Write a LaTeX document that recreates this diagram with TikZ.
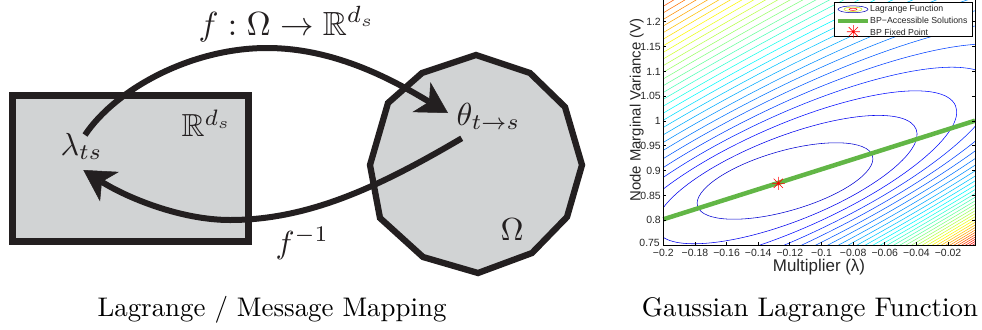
\documentclass[tikz,border=0pt]{standalone}
\usepackage{fontspec}
\usepackage{amssymb}
\newfontfamily\plotfont{Liberation Sans}
\usetikzlibrary{arrows.meta}
\definecolor{shapegray}{RGB}{209,211,212}
\definecolor{ink}{RGB}{35,31,32}
\definecolor{bpgreen}{RGB}{98,182,70}
\begin{document}
\begin{tikzpicture}[x=1bp,y=-1bp,
  region/.style={fill=shapegray, draw=ink, line width=6.3bp, line join=miter},
  maparrow/.style={draw=ink, line width=6bp, -{Stealth[length=31bp,width=35bp,inset=9bp,line width=0.5bp]}},
  mathlabel/.style={inner sep=0pt, scale=3.2, text=ink},
  caption/.style={inner sep=0pt, scale=2.7},
  ticklab/.style={font=\plotfont\fontsize{10.5}{12}\selectfont, inner sep=0pt, text=black!85},
  axlab/.style={font=\plotfont\fontsize{17}{19}\selectfont, inner sep=0pt, text=black!85},
  ylabstyle/.style={font=\plotfont\fontsize{15}{17}\selectfont, inner sep=0pt, text=black!85},
  legtext/.style={font=\plotfont\fontsize{8.8}{10}\selectfont, inner sep=0pt, anchor=west, text=black!85},
  contour/.style={line width=0.55bp},
  axisline/.style={line width=0.8bp, black},
  starmark/.style={red, line width=0.6bp}]
\useasboundingbox (0,0) rectangle (982,329);
% ---------------- left panel ----------------
\draw[region] (12.5,95.5) rectangle (248.5,241.5);
\draw[region] (476,55) -- (530,73) -- (565,107) -- (582,165) -- (567,217) -- (532,253)
  -- (478,273) -- (423,257) -- (380,218) -- (370,165) -- (388,103) -- (422,73) -- cycle;
\node[mathlabel, anchor=base west] (lam) at (60,155) {$\lambda_{ts}$};
\node[mathlabel, anchor=base west] (theta) at (456,125) {$\theta_{t\to s}$};
\node[mathlabel, anchor=base west] (Rds) at (181,136.7) {$\mathbb{R}^{d_s}$};
\node[mathlabel, anchor=base west] (Om) at (500,240) {$\Omega$};
\node[mathlabel, anchor=base west, scale=1.05] (fmap) at (198,35) {$f:\Omega\to\mathbb{R}^{d_s}$};
\node[mathlabel, anchor=base west] (finv) at (275,253) {$f^{-1}$};
\coordinate (fstart) at (85,135);
\coordinate (fapex) at (267,48);
\coordinate (fend) at (448,113);
\coordinate (gstart) at (461.7,138.3);
\coordinate (glow) at (230,220);
\coordinate (gend) at (83.3,170);
\draw[maparrow] (fstart) .. controls (115,90) and (190,48) .. (fapex)
  .. controls (337,48) and (396.5,82.2) .. (fend);
\draw[maparrow] (gstart) .. controls (381.7,185.3) and (310,220) .. (glow)
  .. controls (180,220) and (125.5,196.9) .. (gend);
\node[caption, anchor=base] (capL) at (272,316) {Lagrange / Message Mapping};
% ---------------- right panel ----------------
\begin{scope}
\clip (663.3,0) rectangle (975,245);
\foreach \k in {1,...,36} {
  \pgfmathsetmacro{\sq}{sqrt(\k)}
  \pgfmathsetmacro{\A}{91*\sq*(1+0.08*(\k-1))}
  \pgfmathsetmacro{\Bp}{30*\sq*(1-0.003*(\k-1))}
  \pgfmathsetmacro{\Bm}{30*\sq*(1+0.012*(\k-1))}
  \pgfmathsetmacro{\ang}{16+18*(1-1/\sq)}
  \pgfmathsetmacro{\cx}{785+4*(\sq-1)}
  \pgfmathsetmacro{\cy}{181-3*(\sq-1)}
  \pgfmathsetmacro{\lev}{0.08+0.92*(\k-1)/35}
  \pgfmathsetmacro{\cR}{min(1,max(0,1.5-abs(4*\lev-3)))}
  \pgfmathsetmacro{\cG}{min(1,max(0,1.5-abs(4*\lev-2)))}
  \pgfmathsetmacro{\cB}{min(1,max(0,1.5-abs(4*\lev-1)))}
  \definecolor{levcol}{rgb}{\cR,\cG,\cB}
  \begin{scope}[shift={(\cx,\cy)}, rotate=\ang]
    \draw[levcol, contour] (\A,0) arc[start angle=0,end angle=180,x radius=\A,y radius=\Bp]
      arc[start angle=180,end angle=360,x radius=\A,y radius=\Bm];
  \end{scope}
}
\end{scope}
\coordinate (gl0) at (663.3,219.3);
\coordinate (gl1) at (975,120.7);
\draw[bpgreen, line width=4.5bp] (gl0) -- (gl1);
\coordinate (fp) at (778.3,183.3);
\draw[starmark] (fp) +(-6.5,0) -- +(6.5,0) (fp) +(0,-6.5) -- +(0,6.5)
  (fp) +(-4.6,-4.6) -- +(4.6,4.6) (fp) +(-4.6,4.6) -- +(4.6,-4.6);
\draw[axisline] (663.3,0) -- (663.3,245) -- (975,245) -- (975,0);
\foreach \i/\lab in {0/−0.2,1/−0.18,2/−0.16,3/−0.14,4/−0.12,5/−0.1,6/−0.08,7/−0.06,8/−0.04,9/−0.02} {
  \draw[axisline] (663.3+\i*31.64,245) -- ++(0,-3);
  \node[ticklab, anchor=north] (xt\i) at (663.3+\i*31.64,249) {\lab};
}
\foreach \j/\lab in {1/0.8,2/0.85,3/0.9,4/0.95,5/1,6/1.05,7/1.1,8/1.15,9/1.2} {
  \draw[axisline] (663.3,245-\j*24.8) -- ++(3,0);
  \draw[axisline] (975,245-\j*24.8) -- ++(-3,0);
  \node[ticklab, anchor=east] (yt\j) at (661,245-\j*24.8) {\lab};
}
\node[ticklab, anchor=east] (yt0) at (660,242.5) {0.75};
\node[axlab] (xlab) at (819,267) {Multiplier (λ)};
\node[ylabstyle, rotate=90] (ylab) at (636.7,110) {Node Marginal Variance (V)};
% legend
\draw[fill=white, line width=0.7bp] (834.3,2.7) rectangle (972.3,36.7);
\coordinate (li1) at (853,9.3);
\draw[blue!70!black, line width=0.5bp] (li1) ellipse [x radius=15, y radius=3.4];
\draw[yellow!80!green, line width=0.5bp] (li1) ellipse [x radius=9, y radius=2.2];
\draw[red, line width=0.5bp] (li1) ellipse [x radius=4, y radius=1.1];
\node[legtext] (lt1) at (870,9.3) {Lagrange Function};
\coordinate (li2a) at (838.3,20.7);
\coordinate (li2b) at (868.3,20.7);
\draw[bpgreen, line width=4bp] (li2a) -- (li2b);
\node[legtext] (lt2) at (870,20.7) {BP−Accessible Solutions};
\coordinate (li3) at (853.3,31.7);
\draw[starmark] (li3) +(-6.5,0) -- +(6.5,0) (li3) +(0,-6.5) -- +(0,6.5)
  (li3) +(-4.6,-4.6) -- +(4.6,4.6) (li3) +(-4.6,4.6) -- +(4.6,-4.6);
\node[legtext] (lt3) at (870,32.3) {BP Fixed Point};
\node[caption, anchor=base] (capR) at (810,316) {Gaussian Lagrange Function};
\end{tikzpicture}
\end{document}
